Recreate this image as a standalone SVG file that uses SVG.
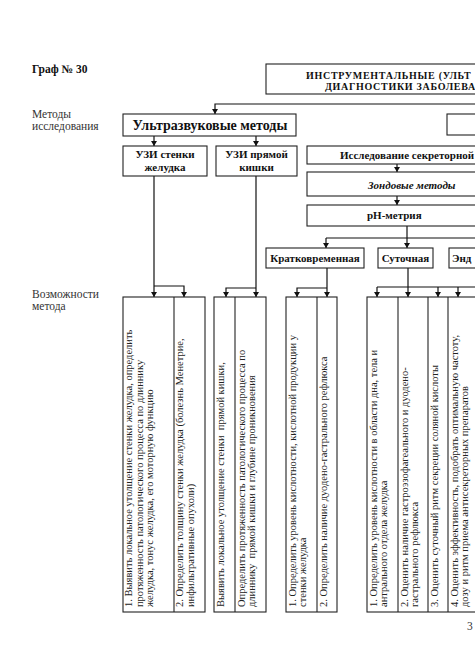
<svg xmlns="http://www.w3.org/2000/svg" width="475" height="671" viewBox="0 0 475 671">
<defs>
<marker id="ah" markerWidth="5" markerHeight="6" refX="5" refY="3" orient="auto" markerUnits="userSpaceOnUse">
<path d="M0,0 L5,3 L0,6 z" fill="#111"/>
</marker>
<style>
.box{fill:#fff;stroke:#222;stroke-width:1.1}
.div{stroke:#222;stroke-width:1.1;fill:none}
.con{fill:none;stroke:#111;stroke-width:1.2}
.arr{fill:none;stroke:#111;stroke-width:1.2;marker-end:url(#ah)}
.b{font-family:"Liberation Serif","Times New Roman",serif;font-weight:bold;font-size:11px;fill:#111}
.bt{font-family:"Liberation Serif","Times New Roman",serif;font-weight:bold;font-size:10px;letter-spacing:0.7px;fill:#111}
.bi{font-family:"Liberation Serif","Times New Roman",serif;font-weight:bold;font-style:italic;font-size:11px;fill:#111}
.lbl{font-family:"Liberation Serif","Times New Roman",serif;font-size:11.5px;fill:#333}
.v{font-family:"Liberation Serif","Times New Roman",serif;font-size:10.5px;fill:#222}
</style>
</defs>
<rect width="475" height="671" fill="#fff"/>

<g id="side-labels">
<text class="b" x="32" y="73" style="font-size:11.5px">Граф № 30</text>
<text class="lbl" x="32" y="118">Методы</text>
<text class="lbl" x="32" y="130">исследования</text>
<text class="lbl" x="32" y="298">Возможности</text>
<text class="lbl" x="32" y="310">метода</text>
<text class="lbl" x="467" y="630">3</text>
</g>

<g id="connectors">
<path class="arr" d="M480,104 H215 V114"/>
<path class="arr" d="M154,136 V146"/>
<path class="arr" d="M256,136 V146"/>
<path class="arr" d="M397,164 V172"/>
<path class="arr" d="M397,196 V205"/>
<path class="con" d="M326,238 H480"/>
<path class="arr" d="M407,226 V248"/>
<path class="arr" d="M326,238 V248"/>
<path class="arr" d="M154,176 V297"/>
<path class="arr" d="M154,286 H184 V297"/>
<path class="arr" d="M256,176 V297"/>
<path class="arr" d="M256,288 H226 V297"/>
<path class="arr" d="M327,268 V297"/>
<path class="arr" d="M327,288 H297 V297"/>
<path class="arr" d="M408,268 V297"/>
<path class="con" d="M377,287 H480"/>
<path class="arr" d="M377,287 V297"/>
<path class="arr" d="M438,287 V297"/>
<path class="arr" d="M458,287 V297"/>
</g>

<g id="node-top">
<rect class="box" x="266" y="64" width="220" height="30"/>
<text class="bt" x="306" y="79">ИНСТРУМЕНТАЛЬНЫЕ (УЛЬТ</text>
<text class="bt" x="325" y="90.3">ДИАГНОСТИКИ ЗАБОЛЕВА</text>
</g>

<g id="node-us">
<rect class="box" x="123" y="114" width="173" height="22"/>
<text class="b" x="210" y="129.5" text-anchor="middle" style="font-size:14px">Ультразвуковые методы</text>
</g>

<g id="node-right">
<rect class="box" x="447" y="114" width="40" height="21"/>
</g>

<g id="node-uzi-stomach">
<rect class="box" x="123" y="146" width="84" height="30"/>
<text class="b" x="165" y="158" text-anchor="middle">УЗИ стенки</text>
<text class="b" x="165" y="171" text-anchor="middle">желудка</text>
</g>

<g id="node-uzi-rectum">
<rect class="box" x="216" y="146" width="81" height="30"/>
<text class="b" x="256.5" y="158" text-anchor="middle">УЗИ прямой</text>
<text class="b" x="256.5" y="171" text-anchor="middle">кишки</text>
</g>

<g id="node-secretory">
<rect class="box" x="307" y="146" width="180" height="18"/>
<text class="b" x="340" y="158.5">Исследование секреторной</text>
</g>

<g id="node-probe">
<rect class="box" x="307" y="172" width="180" height="24"/>
<text class="bi" x="368" y="188.5">Зондовые методы</text>
</g>

<g id="node-ph">
<rect class="box" x="307" y="205" width="180" height="21"/>
<text class="b" x="367" y="219">pH-метрия</text>
</g>

<g id="node-short">
<rect class="box" x="266" y="248" width="98" height="20"/>
<text class="b" x="315" y="262" text-anchor="middle">Кратковременная</text>
</g>

<g id="node-daily">
<rect class="box" x="378" y="248" width="55" height="20"/>
<text class="b" x="405.5" y="262" text-anchor="middle">Суточная</text>
</g>

<g id="node-endo">
<rect class="box" x="449" y="248" width="40" height="20"/>
<text class="b" x="452" y="262">Энд</text>
</g>

<g id="node-cap1">
<rect class="box" x="123" y="297" width="82" height="315"/>
<line class="div" x1="174" y1="297" x2="174" y2="612"/>
<text class="v" transform="translate(132,607) rotate(-90)">1. Выявить локальное утолщение стенки желудка, определить</text>
<text class="v" transform="translate(142.5,607) rotate(-90)">протяженность патологического процесса по длиннику</text>
<text class="v" transform="translate(153,607) rotate(-90)">желудка, тонус желудка, его моторную функцию</text>
<text class="v" transform="translate(183,607) rotate(-90)">2. Определить толщину стенки желудка (болезнь Менетрие,</text>
<text class="v" transform="translate(193.5,607) rotate(-90)">инфильтративные опухоли)</text>
</g>

<g id="node-cap2">
<rect class="box" x="214" y="297" width="52" height="315"/>
<line class="div" x1="235" y1="297" x2="235" y2="612"/>
<text class="v" transform="translate(223.5,607) rotate(-90)" xml:space="preserve">Выявить локальное утолщение стенки  прямой кишки,</text>
<text class="v" transform="translate(244.5,607) rotate(-90)">Определить протяженность патологического процесса по</text>
<text class="v" transform="translate(255,607) rotate(-90)" xml:space="preserve">длиннику  прямой кишки и глубине проникновения</text>
</g>

<g id="node-cap3">
<rect class="box" x="286" y="297" width="51" height="315"/>
<line class="div" x1="317" y1="297" x2="317" y2="612"/>
<text class="v" transform="translate(295.5,607) rotate(-90)">1. Определить уровень кислотности, кислотной продукции у</text>
<text class="v" transform="translate(306,607) rotate(-90)">стенки желудка</text>
<text class="v" transform="translate(327,607) rotate(-90)">2. Определить наличие дуодено-гастрального рефлюкса</text>
</g>

<g id="node-cap4">
<rect class="box" x="367" y="297" width="120" height="315"/>
<line class="div" x1="398" y1="297" x2="398" y2="612"/>
<line class="div" x1="428" y1="297" x2="428" y2="612"/>
<line class="div" x1="448" y1="297" x2="448" y2="612"/>
<text class="v" transform="translate(376.5,607) rotate(-90)">1. Определить уровень кислотности в области дна, тела и</text>
<text class="v" transform="translate(387,607) rotate(-90)">антрального отдела желудка</text>
<text class="v" transform="translate(407.5,607) rotate(-90)">2. Оценить наличие гастроэзофагеального и дуодено-</text>
<text class="v" transform="translate(418,607) rotate(-90)">гастрального рефлюкса</text>
<text class="v" transform="translate(437.5,607) rotate(-90)">3. Оценить суточный ритм секреции соляной кислоты</text>
<text class="v" transform="translate(457.5,607) rotate(-90)">4. Оценить эффективность, подобрать оптимальную частоту,</text>
<text class="v" transform="translate(468,607) rotate(-90)">дозу и ритм приема антисекреторных препаратов</text>
</g>
</svg>
